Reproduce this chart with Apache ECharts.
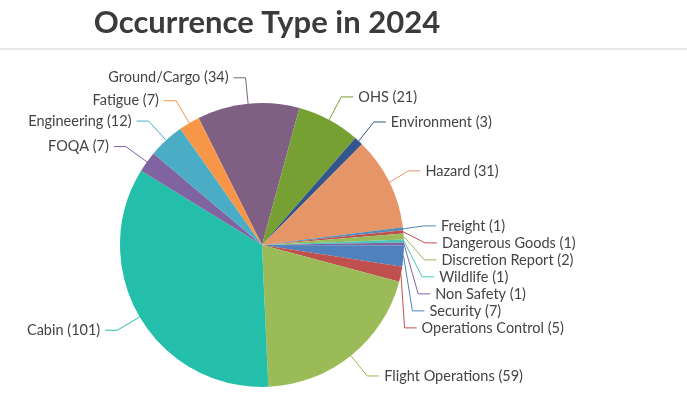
<!DOCTYPE html>
<html>
<head>
<meta charset="utf-8">
<script src="https://cdn.jsdelivr.net/npm/echarts@6/dist/echarts.min.js"></script>
<style>
  html, body { margin: 0; padding: 0; background: #fff; }
  #chart { width: 687px; height: 400px; }
</style>
</head>
<body>
<div id="chart"></div>
<script>
// occurrence types, clockwise from Ground/Cargo
var categories = ['Ground/Cargo', 'OHS', 'Environment', 'Hazard', 'Freight', 'Dangerous Goods',
  'Discretion Report', 'Wildlife', 'Non Safety', 'Security', 'Operations Control',
  'Flight Operations', 'Cabin', 'FOQA', 'Engineering', 'Fatigue'];
var counts = [34, 21, 3, 31, 1, 1, 2, 1, 1, 7, 5, 59, 101, 7, 12, 7];
var colors = ['#7F6084', '#77A033', '#33558B', '#E59566', '#558BB8', '#C0504E',
  '#9BBB58', '#4AC5B8', '#8064A1', '#4F81BC', '#C0504E',
  '#9BBB58', '#23BFAA', '#8064A1', '#4AACC5', '#F79647'];

var pieData = categories.map(function (name, i) {
  return { name: name, value: counts[i], itemStyle: { color: colors[i] } };
});

var myChart = echarts.init(document.getElementById('chart'));
myChart.setOption({
  animation: false,
  title: {
    text: 'Occurrence Type in 2024',
    left: 262,
    top: 2,
    textAlign: 'center',
    textStyle: { fontFamily: 'Lato', fontWeight: 'bold', fontSize: 31, color: '#3b3b3b' }
  },
  graphic: [{
    type: 'rect',
    shape: { x: 0, y: 48, width: 687, height: 2 },
    style: { fill: '#e8e8e8' },
    silent: true
  }],
  series: [{
    type: 'pie',
    center: [262, 245],
    radius: 142,
    startAngle: 116.5,
    clockwise: true,
    avoidLabelOverlap: true,
    data: pieData,
    label: {
      formatter: '{b} ({c})',
      fontFamily: 'Lato',
      fontSize: 14.5,
      color: '#444',
      padding: [2, 0, 2, 0]
    },
    labelLine: {
      length: 26,
      length2: 12,
      lineStyle: { width: 1 }
    },
    itemStyle: { borderWidth: 0 }
  }]
});
</script>
</body>
</html>
